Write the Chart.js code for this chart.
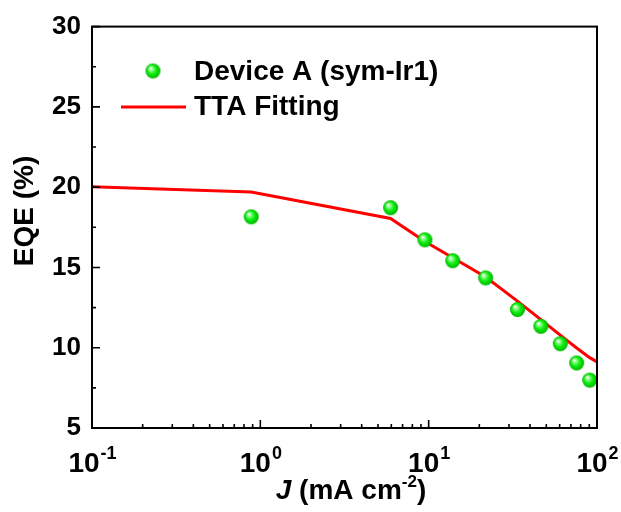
<!DOCTYPE html>
<html>
<head>
<meta charset="utf-8">
<script src="https://cdn.jsdelivr.net/npm/chart.js@4.4.0/dist/chart.umd.min.js"></script>
<style>
  html, body { margin: 0; padding: 0; background: #fff; }
</style>
</head>
<body>
<canvas id="eqeChart" width="621" height="512"></canvas>
<script>
// measured EQE of device A vs current density
const deviceJ = [0.883, 5.94, 9.5, 13.9, 21.8, 33.7, 46.4, 60.5, 75.7, 90.5];
const deviceEQE = [18.15, 18.72, 16.72, 15.42, 14.35, 12.38, 11.33, 10.25, 9.05, 7.98];

// TTA model curve
const fitJ = [0.1, 0.883, 5.94, 9.5, 13.9, 21.8, 33.7, 46.4, 60.5, 75.7, 90.5, 100];
const fitEQE = [20.02, 19.7, 18.05, 16.62, 15.6, 14.4, 12.9, 11.75, 10.78, 9.98, 9.38, 9.12];

const xMajor = [0.1, 1, 10, 100];
const xExponents = ['-1', '0', '1', '2'];
const yMajor = [5, 10, 15, 20, 25, 30];

const FONT = 'Liberation Sans, Arial, sans-serif';

function makeBall(r) {
  const c = document.createElement('canvas');
  c.width = c.height = r * 2 + 2;
  const g = c.getContext('2d');
  const cx = r + 1, cy = r + 1;
  const grad = g.createRadialGradient(cx - r * 0.35, cy - r * 0.4, r * 0.05, cx, cy, r);
  grad.addColorStop(0, '#ffffff');
  grad.addColorStop(0.2, '#9cff9c');
  grad.addColorStop(0.55, '#10f010');
  grad.addColorStop(1, '#00b400');
  g.fillStyle = grad;
  g.beginPath();
  g.arc(cx, cy, r, 0, Math.PI * 2);
  g.fill();
  return c;
}
const ball = makeBall(7.5);

// box, inward ticks, superscript labels, axis titles and legend
const decorations = {
  id: 'decorations',
  afterDraw(chart) {
    const { ctx, chartArea: a, scales: { x, y } } = chart;
    ctx.save();
    ctx.strokeStyle = '#000';
    ctx.lineWidth = 2;
    ctx.strokeRect(a.left, a.top, a.right - a.left, a.bottom - a.top);

    ctx.lineWidth = 1.6;
    ctx.beginPath();
    // x ticks (major + 2..9 minors)
    for (let d = -1; d < 2; d++) {
      for (let m = 1; m <= 9; m++) {
        const px = x.getPixelForValue(m * Math.pow(10, d));
        const len = m === 1 ? 8 : 4;
        ctx.moveTo(px, a.bottom);
        ctx.lineTo(px, a.bottom - len);
      }
    }
    // y ticks (major + half-step minors)
    for (let v = 5; v <= 30; v += 2.5) {
      const py = y.getPixelForValue(v);
      const len = v % 5 === 0 ? 8 : 4;
      ctx.moveTo(a.left, py);
      ctx.lineTo(a.left + len, py);
    }
    ctx.stroke();

    // x tick labels: 10^n
    ctx.fillStyle = '#000';
    ctx.textBaseline = 'alphabetic';
    ctx.textAlign = 'left';
    xMajor.forEach((v, i) => {
      const px = x.getPixelForValue(v);
      ctx.font = 'bold 28px ' + FONT;
      const wBase = ctx.measureText('10').width;
      ctx.font = 'bold 18px ' + FONT;
      const wExp = ctx.measureText(xExponents[i]).width;
      const start = px - (wBase + wExp) / 2;
      ctx.font = 'bold 28px ' + FONT;
      ctx.fillText('10', start, 472);
      ctx.font = 'bold 18px ' + FONT;
      ctx.fillText(xExponents[i], start + wBase + 1, 459);
    });

    // x title: J (mA cm^-2)
    const parts = [
      { t: 'J', f: 'italic bold 28px ', dy: 0 },
      { t: ' (mA cm', f: 'bold 28px ', dy: 0 },
      { t: '-2', f: 'bold 17px ', dy: -12 },
      { t: ')', f: 'bold 28px ', dy: 0 }
    ];
    let total = 0;
    parts.forEach(p => { ctx.font = p.f + FONT; p.w = ctx.measureText(p.t).width; total += p.w; });
    let cx = 351 - total / 2;
    parts.forEach(p => {
      ctx.font = p.f + FONT;
      ctx.fillText(p.t, cx, 499 + p.dy);
      cx += p.w;
    });

    // y title
    ctx.save();
    ctx.translate(25, 211);
    ctx.rotate(-Math.PI / 2);
    ctx.font = 'bold 28px ' + FONT;
    ctx.textAlign = 'center';
    ctx.textBaseline = 'middle';
    ctx.fillText('EQE (%)', 0, 0);
    ctx.restore();

    // legend
    ctx.drawImage(ball, 153 - ball.width / 2, 71 - ball.height / 2);
    ctx.strokeStyle = '#ff0000';
    ctx.lineWidth = 3;
    ctx.beginPath();
    ctx.moveTo(121, 107);
    ctx.lineTo(186, 107);
    ctx.stroke();
    ctx.font = 'bold 28px ' + FONT;
    ctx.textAlign = 'left';
    ctx.textBaseline = 'middle';
    ctx.fillText(chart.data.datasets[0].label, 194, 72);
    ctx.fillText(chart.data.datasets[1].label, 194, 107);
    ctx.restore();
  }
};

new Chart(document.getElementById('eqeChart'), {
  type: 'scatter',
  data: {
    datasets: [
      {
        label: 'Device A (sym-Ir1)',
        data: deviceJ.map((v, i) => ({ x: v, y: deviceEQE[i] })),
        pointStyle: ball,
        pointRadius: 8,
        order: 0
      },
      {
        label: 'TTA Fitting',
        type: 'line',
        data: fitJ.map((v, i) => ({ x: v, y: fitEQE[i] })),
        borderColor: '#ff0000',
        borderWidth: 3,
        pointRadius: 0,
        fill: false,
        tension: 0,
        order: 1
      }
    ]
  },
  options: {
    responsive: false,
    animation: false,
    layout: { padding: { top: 26, right: 24, left: 0, bottom: 0 } },
    plugins: { legend: { display: false }, tooltip: { enabled: false } },
    scales: {
      x: {
        type: 'logarithmic',
        min: 0.1,
        max: 100,
        grid: { display: false },
        border: { display: false },
        ticks: { display: false },
        afterFit(s) { s.height = 84; }
      },
      y: {
        min: 5,
        max: 30,
        afterBuildTicks(s) { s.ticks = yMajor.map(v => ({ value: v })); },
        ticks: {
          color: '#000',
          padding: 11,
          font: { family: FONT, size: 26, weight: 'bold' }
        },
        grid: { display: false, drawTicks: false },
        border: { display: false },
        afterFit(s) { s.width = 92; }
      }
    }
  },
  plugins: [decorations]
});
</script>
</body>
</html>
